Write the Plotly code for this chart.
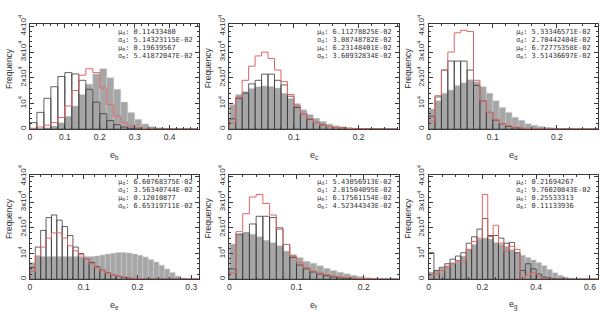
import plotly.graph_objects as go

# ---------------- data ----------------
# panel e_b  (bin width 0.02)
b_bin = 0.02
b_gray = [0, 100, 500, 1200, 2500, 5000, 9000, 13500, 17500, 21500, 23500, 20000,
          15500, 10500, 6500, 3800, 2000, 1000, 500, 250, 100, 50, 0, 0]
b_black = [2500, 6500, 12000, 16500, 20500, 22000, 21500, 19000, 15500, 10500, 6000, 3300,
           1700, 800, 300, 100, 0, 0, 0, 0, 0, 0, 0, 0]
b_red = [300, 800, 1500, 2500, 4500, 9000, 15000, 21000, 23500, 22000, 16000, 9500,
         5000, 2500, 1200, 500, 200, 100, 0, 0, 0, 0, 0, 0]

# panel e_c  (bin width 0.01)
c_bin = 0.01
c_gray = [9600, 13500, 14600, 15800, 16500, 16800, 16600, 16000, 14000, 12000, 10000, 7500, 5700,
          4200, 2900, 2000, 1300, 900, 600, 400, 300, 200, 150, 100, 50, 0]
c_black = [4000, 12000, 14000, 17600, 19000, 21400, 21400, 19000, 17200, 12800, 8400, 6000, 3800,
           2600, 1600, 1000, 600, 400, 250, 150, 100, 50, 0, 0, 0, 0]
c_red = [2500, 12500, 19000, 24500, 28500, 30000, 27500, 23000, 18500, 13500, 9000, 6000, 4000,
         2500, 1500, 1000, 600, 400, 250, 150, 100, 50, 0, 0, 0, 0]

# panel e_d  (bin width 0.01)
d_bin = 0.01
d_gray = [7800, 11000, 14000, 15200, 17000, 18000, 19200, 18400, 16500, 14000, 11000, 8400, 6500,
          4600, 3400, 2100, 1500, 1000, 700, 500, 300, 200, 100, 50, 0, 0, 0]
d_black = [5000, 12500, 23000, 26500, 26500, 26500, 23000, 17000, 11000, 6500, 3500, 2000, 1000,
           500, 300, 150, 100, 50, 0, 0, 0, 0, 0, 0, 0, 0, 0]
d_red = [3000, 13000, 23000, 30000, 37500, 38500, 38000, 19000, 11000, 6500, 3800, 2200, 1300,
         700, 400, 250, 150, 100, 80, 60, 40, 20, 0, 0, 0, 0, 0]

# panel e_e  (bin width 0.01)
e_bin = 0.01
e_gray = [6500, 8800, 8800, 8800, 8800, 8800, 8800, 8800, 8800, 8800, 8800, 8800, 9000, 9400, 9800,
          10100, 10400, 10400, 10200, 9800, 9300, 8600, 7700, 6700, 5400, 4000, 2600, 1200, 300, 0, 0, 0]
e_black = [4500, 12500, 19000, 24000, 25000, 23000, 20500, 17000, 12500, 10000, 8000, 6500, 4800,
           3500, 2500, 1700, 1100, 700, 400, 250, 150, 100, 50, 0, 0, 0, 0, 0, 0, 0, 0, 0]
e_red = [3000, 9000, 12500, 16000, 18000, 18000, 16000, 13000, 11000, 9500, 8000, 6000, 4500,
         3300, 2400, 1700, 1200, 800, 500, 300, 200, 100, 50, 0, 0, 0, 0, 0, 0, 0, 0, 0]

# panel e_f  (bin width 0.01)
f_bin = 0.01
f_gray = [13700, 17500, 17800, 17500, 16500, 15200, 14200, 13000, 11000, 9600, 8400, 7000, 6200,
          5200, 4200, 3400, 2700, 2100, 1500, 1000, 600, 300, 100, 0, 0, 0]
f_black = [4000, 17500, 18000, 21500, 24500, 24500, 24000, 20000, 13500, 8500, 5500, 4000, 2800,
           2000, 1300, 800, 500, 300, 200, 100, 50, 0, 0, 0, 0, 0]
f_red = [2500, 18500, 25500, 32000, 33000, 29500, 25000, 19500, 13500, 9000, 6500, 4500, 3200,
         2400, 1800, 1300, 900, 600, 400, 250, 150, 100, 50, 0, 0, 0]

# panel e_g  (bin width 0.02)
g_bin = 0.02
g_gray = [2800, 3400, 4300, 5300, 6500, 7500, 9000, 11600, 13500, 15600, 16000, 15600, 14300, 13500,
          12800, 11600, 10300, 9300, 8400, 7500, 6500, 5300, 3800, 2500, 1500, 800, 300, 100, 0, 0, 0, 0]
g_black = [10300, 3400, 4600, 6000, 7800, 9000, 10300, 14000, 16500, 19500, 23600, 17000, 17000, 16000,
           14000, 14300, 10300, 3400, 6000, 4000, 2000, 800, 400, 200, 100, 0, 0, 0, 0, 0, 0, 0]
g_red = [1500, 2000, 3400, 4700, 6000, 7200, 7200, 11600, 14700, 16000, 33000, 16600, 21000, 14000,
         11000, 12800, 11600, 300, 1500, 2500, 1000, 300, 100, 0, 0, 0, 0, 0, 0, 0, 0, 0]

x_labels = ["e<sub>b</sub>", "e<sub>c</sub>", "e<sub>d</sub>", "e<sub>e</sub>", "e<sub>f</sub>", "e<sub>g</sub>"]
x_max = [0.485, 0.262, 0.264, 0.315, 0.252, 0.63]
x_dtick = [0.1, 0.1, 0.1, 0.1, 0.1, 0.2]
x_minor = [0.02, 0.02, 0.02, 0.02, 0.02, 0.05]

y_tickvals = [0, 10000, 20000, 30000, 40000]
y_ticktext = ["0", "10<sup>4</sup>", "2x10<sup>4</sup>", "3x10<sup>4</sup>", "4x10<sup>4</sup>"]
y_max = 40750

stat_names = ["μ<sub>d</sub>: ", "σ<sub>d</sub>: ", "μ<sub>m</sub>: ", "σ<sub>m</sub>: "]
stats_b = ["0.11433480", "5.14323115E-02", "0.19639567", "5.41872047E-02"]
stats_c = ["6.11278825E-02", "3.08748782E-02", "6.23148401E-02", "3.60932834E-02"]
stats_d = ["5.33346571E-02", "2.70442404E-02", "6.72775358E-02", "3.51436697E-02"]
stats_e = ["6.60768375E-02", "3.56340744E-02", "0.12010877", "6.65319711E-02"]
stats_f = ["5.43056913E-02", "2.81504095E-02", "6.17561154E-02", "4.52344343E-02"]
stats_g = ["0.21694267", "9.76020843E-02", "0.25533313", "0.11133936"]

panels = [
    (b_bin, b_gray, b_black, b_red, stats_b),
    (c_bin, c_gray, c_black, c_red, stats_c),
    (d_bin, d_gray, d_black, d_red, stats_d),
    (e_bin, e_gray, e_black, e_red, stats_e),
    (f_bin, f_gray, f_black, f_red, stats_f),
    (g_bin, g_gray, g_black, g_red, stats_g),
]

# ---------------- layout geometry ----------------
W, H = 600, 315
col_px = [(28, 198), (228, 398), (428, 598)]
row_px = [(16, 124), (171, 279)]

FONT = "Liberation Sans, Arial, sans-serif"
MONO = "DejaVu Sans Mono, Liberation Mono, monospace"
AX = "#3a3a3a"
TXT = "#333333"
GRAY = "#a6a6a6"
BLACK = "#3a3a3a"
RED = "#e06666"

fig = go.Figure()
layout = dict(
    width=W, height=H, margin=dict(l=0, r=0, t=0, b=0),
    paper_bgcolor="white", plot_bgcolor="white",
    barmode="overlay", showlegend=False,
    font=dict(family=FONT, color=TXT, size=8),
)
annotations = []

for i, (binw, gray, black, red, stats) in enumerate(panels):
    n = i + 1
    r, c = divmod(i, 3)
    x0, x1 = col_px[c]
    y0, y1 = row_px[r]
    xa = "x" if n == 1 else f"x{n}"
    ya = "y" if n == 1 else f"y{n}"
    centers = [binw * (k + 0.5) for k in range(len(gray))]
    edges = [binw * k for k in range(len(gray) + 1)]

    fig.add_trace(go.Bar(x=centers, y=gray, width=binw, xaxis=xa, yaxis=ya,
                         marker=dict(color=GRAY, line=dict(color="#cfcfcf", width=0.5))))
    fig.add_trace(go.Bar(x=centers, y=black, width=binw, xaxis=xa, yaxis=ya,
                         marker=dict(color="rgba(0,0,0,0)", line=dict(color=BLACK, width=0.8))))
    fig.add_trace(go.Scatter(x=[edges[0]] + edges[:-1] + [edges[-1]], y=[0] + red + [0],
                             mode="lines", xaxis=xa, yaxis=ya,
                             line=dict(shape="hv", color=RED, width=1)))

    xkey = "xaxis" if n == 1 else f"xaxis{n}"
    ykey = "yaxis" if n == 1 else f"yaxis{n}"
    layout[xkey] = dict(
        domain=[x0 / W, x1 / W], range=[0, x_max[i]], anchor=ya,
        showline=True, mirror="allticks", linecolor=AX, linewidth=1,
        ticks="inside", ticklen=4, tickwidth=1, tickcolor=AX,
        tick0=0, dtick=x_dtick[i], showgrid=False, zeroline=False,
        minor=dict(dtick=x_minor[i], ticks="inside", ticklen=2, tickcolor=AX, showgrid=False),
        tickfont=dict(size=8.5, color=TXT, family=FONT),
    )
    layout[ykey] = dict(
        domain=[1 - y1 / H, 1 - y0 / H], range=[0, y_max], anchor=xa,
        showline=True, mirror="allticks", linecolor=AX, linewidth=1,
        ticks="inside", ticklen=4, tickwidth=1, tickcolor=AX,
        tickvals=y_tickvals, ticktext=y_ticktext, tickangle=-90,
        showgrid=False, zeroline=False,
        minor=dict(dtick=2000, ticks="inside", ticklen=2, tickcolor=AX, showgrid=False),
        tickfont=dict(size=8, color=TXT, family=FONT),
    )

    # stats text
    offs = [7.5, 15.8, 24.1, 32.4]
    for k in range(4):
        annotations.append(dict(
            x=(x0 + 86) / W, y=1 - (y0 + offs[k]) / H, xref="paper", yref="paper",
            xanchor="left", yanchor="middle", showarrow=False,
            text=stat_names[k] + stats[k], font=dict(size=7, color=TXT, family=MONO)))
    # x title
    annotations.append(dict(
        x=(x0 + x1) / 2 / W, y=1 - (y1 + 27) / H, xref="paper", yref="paper",
        xanchor="center", yanchor="middle", showarrow=False,
        text=x_labels[i], font=dict(size=9, color=TXT, family=FONT)))
    # y title
    annotations.append(dict(
        x=(x0 - 21) / W, y=1 - (y0 + 45) / H, xref="paper", yref="paper",
        xanchor="center", yanchor="middle", showarrow=False, textangle=-90,
        text="Frequency", font=dict(size=8.5, color=TXT, family=FONT)))

layout["annotations"] = annotations
fig.update_layout(**layout)
fig.write_html("out.html", config={"displayModeBar": False},
               post_script="document.body.style.margin='0px';")
